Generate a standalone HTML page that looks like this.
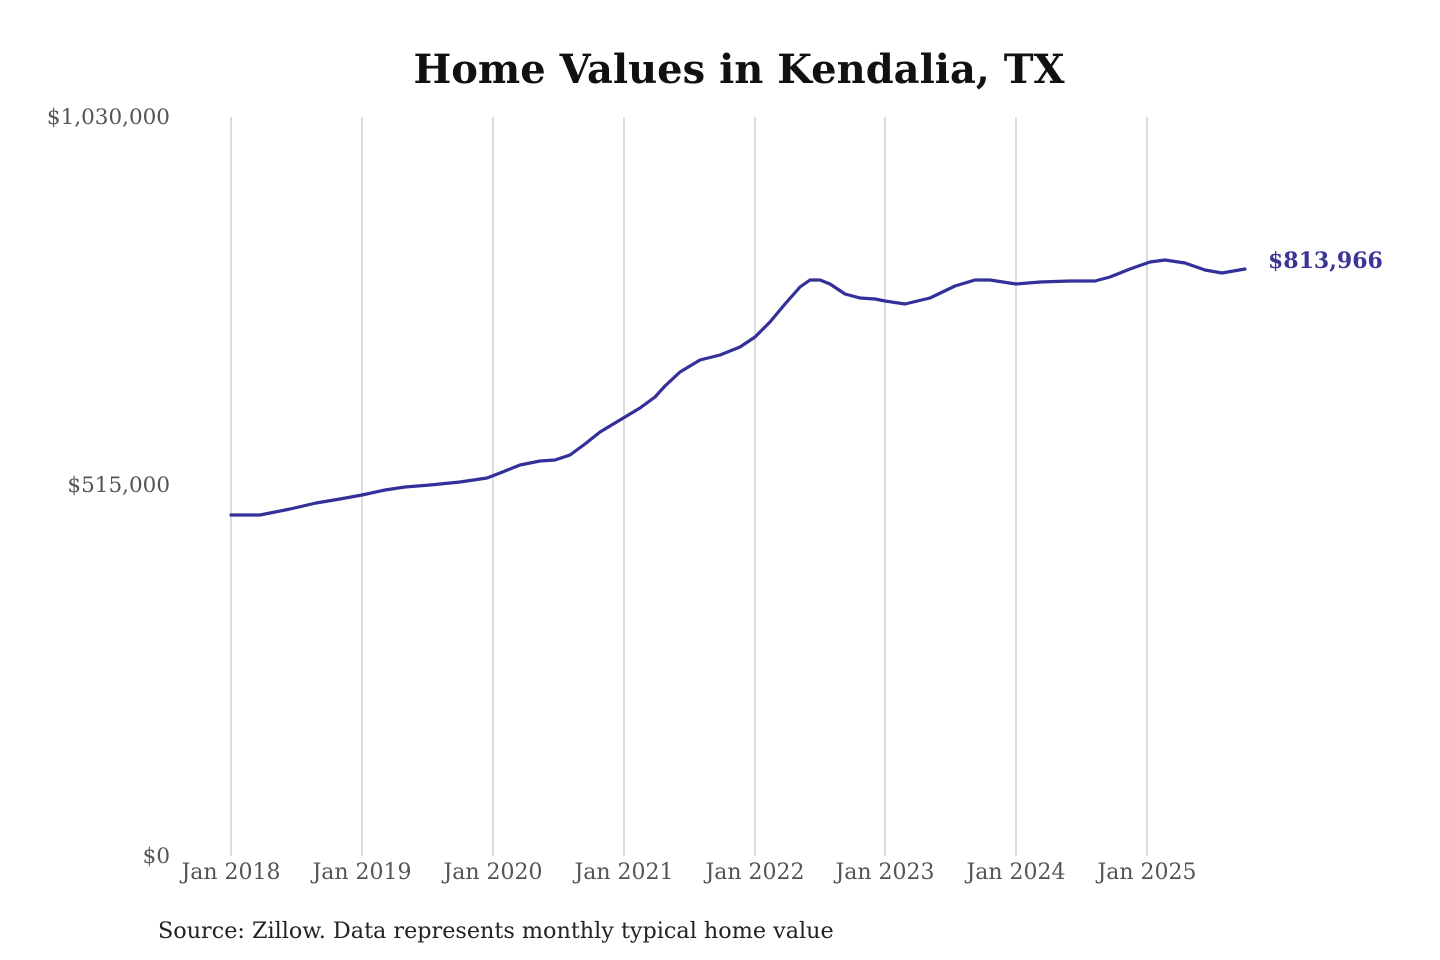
<!DOCTYPE html>
<html><head><style>
html,body{margin:0;padding:0;background:#fff;}
svg{display:block;font-family:"DejaVu Serif","Liberation Serif",serif;}
</style></head><body>
<svg width="1440" height="960" viewBox="0 0 1440 960">
<text x="739" y="83" text-anchor="middle" font-size="40" font-weight="bold" fill="#111">Home Values in Kendalia, TX</text>
<g stroke="#c8c8c8" stroke-width="1.3">
<line x1="231" y1="117" x2="231" y2="856"/><line x1="362" y1="117" x2="362" y2="856"/>
<line x1="493" y1="117" x2="493" y2="856"/><line x1="624" y1="117" x2="624" y2="856"/>
<line x1="755" y1="117" x2="755" y2="856"/><line x1="885" y1="117" x2="885" y2="856"/>
<line x1="1016" y1="117" x2="1016" y2="856"/><line x1="1147" y1="117" x2="1147" y2="856"/>
</g>
<g font-size="21.5" fill="#555" text-anchor="end">
<text x="170" y="124">$1,030,000</text>
<text x="170" y="492">$515,000</text>
<text x="170" y="863">$0</text>
</g>
<g font-size="22" fill="#555" text-anchor="middle">
<text x="231" y="879">Jan 2018</text><text x="362" y="879">Jan 2019</text>
<text x="493" y="879">Jan 2020</text><text x="624" y="879">Jan 2021</text>
<text x="755" y="879">Jan 2022</text><text x="885" y="879">Jan 2023</text>
<text x="1016" y="879">Jan 2024</text><text x="1147" y="879">Jan 2025</text>
</g>
<polyline fill="none" stroke="#33309a" stroke-width="3.2" stroke-linejoin="round" stroke-linecap="round"
points="231,515 260,515 290,509 316,503 340,499 362,495 385,490 405,487 430,485 460,482 487,478 500,473 520,465 540,461 555,460 570,455 585,444 600,432 620,420 640,408 655,397 665,386 680,372 700,360 720,355 740,347 755,337 770,322 785,304 800,287 810,280 820,280 830,284 845,294 860,298 875,299 885,301 905,304 930,298 955,286 975,280 990,280 1016,284 1040,282 1070,281 1095,281 1110,277 1130,269 1150,262 1165,260 1185,263 1205,270 1222,273 1245,269"/>
<text x="1268" y="268" font-size="22" font-weight="bold" fill="#3a3596">$813,966</text>
<text x="158" y="938" font-size="22.3" fill="#222">Source: Zillow. Data represents monthly typical home value</text>
</svg>
</body></html>
